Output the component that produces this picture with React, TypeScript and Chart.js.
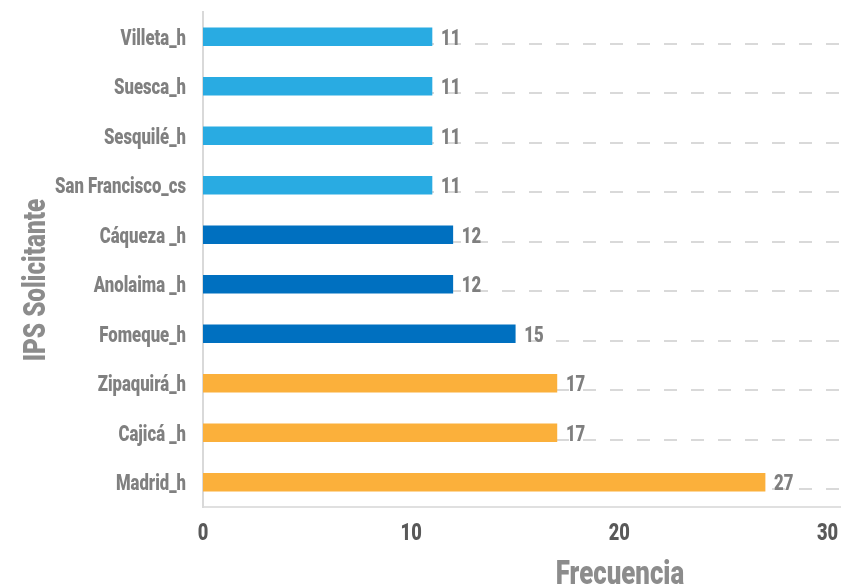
import React, { useEffect, useRef } from "react";
import { Chart, registerables } from "chart.js";

Chart.register(...registerables);

const categories = [
  "Villeta_h",
  "Suesca_h",
  "Sesquilé_h",
  "San Francisco_cs",
  "Cáqueza _h",
  "Anolaima _h",
  "Fomeque_h",
  "Zipaquirá_h",
  "Cajicá _h",
  "Madrid_h",
];
const values = [11, 11, 11, 11, 12, 12, 15, 17, 17, 27];
const barColors = [
  "#29abe2",
  "#29abe2",
  "#29abe2",
  "#29abe2",
  "#0070c0",
  "#0070c0",
  "#0070c0",
  "#fbb03b",
  "#fbb03b",
  "#fbb03b",
];
const xTicks = [0, 10, 20, 30];
const xTitle = "Frecuencia";
const yTitle = "IPS Solicitante";

const FONT = "Roboto, 'Liberation Sans', sans-serif";
const SX = 0.76;

function drawText(
  ctx: CanvasRenderingContext2D,
  text: string,
  x: number,
  y: number,
  size: number,
  color: string,
  align: "left" | "right" | "center"
) {
  ctx.save();
  ctx.font = `900 ${size}px ${FONT}`;
  ctx.fillStyle = color;
  ctx.textBaseline = "alphabetic";
  ctx.textAlign = align;
  ctx.translate(x, y);
  ctx.scale(SX, 1);
  ctx.fillText(text, 0, 0);
  ctx.restore();
}

export default function App() {
  const ref = useRef<HTMLCanvasElement>(null);

  useEffect(() => {
    document.body.style.margin = "0";
    const canvas = ref.current;
    if (!canvas) return;

    const customPlugin = {
      id: "custom",
      beforeDatasetsDraw(chart: any) {
        const { ctx, chartArea, scales } = chart;
        ctx.save();
        ctx.strokeStyle = "#d9d9d9";
        ctx.lineWidth = 2;
        ctx.setLineDash([13, 14]);
        categories.forEach((_, i) => {
          const y = Math.round(scales.y.getPixelForValue(i) + 7);
          ctx.beginPath();
          ctx.moveTo(chartArea.left + 2, y);
          ctx.lineTo(chart.width - 2, y);
          ctx.stroke();
        });
        ctx.restore();
      },
      afterDatasetsDraw(chart: any) {
        const { ctx, scales, chartArea } = chart;
        values.forEach((v, i) => {
          const x = scales.x.getPixelForValue(v) + 9;
          const y = scales.y.getPixelForValue(i) + 8;
          drawText(ctx, String(v), x, y, 22, "#7f7f7f", "left");
        });
        categories.forEach((c, i) => {
          const y = scales.y.getPixelForValue(i) + 8;
          drawText(ctx, c, chartArea.left - 17, y, 22, "#808080", "right");
        });
        xTicks.forEach((t) => {
          const x = scales.x.getPixelForValue(t);
          drawText(ctx, String(t), x, chartArea.bottom + 33, 24, "#595959", "center");
        });
      },
      afterDraw(chart: any) {
        const { ctx } = chart;
        drawText(ctx, xTitle, 620, 584, 34, "#8c8c8c", "center");
        ctx.save();
        ctx.translate(45, 280);
        ctx.rotate(-Math.PI / 2);
        drawText(ctx, yTitle, 0, 0, 32, "#8c8c8c", "center");
        ctx.restore();
      },
    };

    const chart = new Chart(canvas, {
      type: "bar",
      data: {
        labels: categories,
        datasets: [
          {
            data: values,
            backgroundColor: barColors,
            barThickness: 18,
          },
        ],
      },
      options: {
        indexAxis: "y",
        animation: false,
        responsive: false,
        layout: { padding: { top: 12, right: 9, left: 0, bottom: 0 } },
        plugins: {
          legend: { display: false },
          tooltip: { enabled: false },
        },
        scales: {
          x: {
            min: 0,
            max: 30.6,
            afterFit: (s: any) => {
              s.height = 80;
              s.paddingLeft = 0;
              s.paddingRight = 0;
            },
            afterBuildTicks: (s: any) => {
              s.ticks = xTicks.map((v) => ({ value: v }));
            },
            grid: { display: false, drawTicks: false },
            border: { display: true, color: "#e0e0e0", width: 2 },
            ticks: { display: false },
          },
          y: {
            afterFit: (s: any) => {
              s.width = 203;
              s.paddingTop = 0;
              s.paddingBottom = 0;
            },
            grid: { display: false, drawTicks: false },
            border: { display: true, color: "#d9d9d9", width: 2 },
            ticks: { display: false },
          },
        },
      },
      plugins: [customPlugin],
    } as any);

    return () => chart.destroy();
  }, []);

  return (
    <div style={{ width: 849, height: 587 }}>
      <canvas ref={ref} width={849} height={587} style={{ display: "block" }} />
    </div>
  );
}
